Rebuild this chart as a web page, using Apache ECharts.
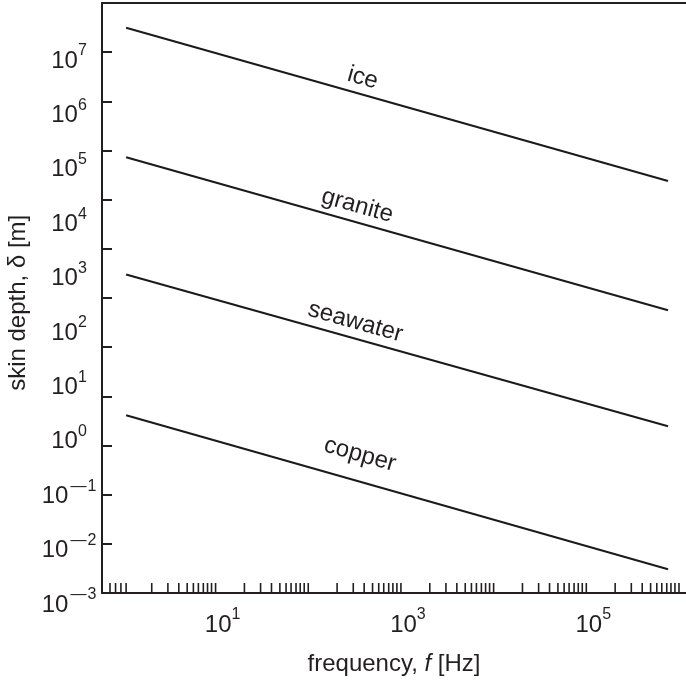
<!DOCTYPE html>
<html>
<head>
<meta charset="utf-8">
<script src="https://cdn.jsdelivr.net/npm/echarts@6/dist/echarts.min.js"></script>
<style>
  html, body { margin: 0; padding: 0; background: #ffffff; }
  #chart { width: 686px; height: 683px; }
</style>
</head>
<body>
<div id="chart"></div>
<script>
// Electromagnetic skin depth against frequency for four materials, log–log.
const materials = ['ice', 'granite', 'seawater', 'copper'];
const lineFreqs = [0.91, 6.4e5];            // Hz, first and last point of each line
const iceDepth = [3.6e7, 5.5e4];            // m
const graniteDepth = [1.5e5, 230];
const seawaterDepth = [1050, 1.7];
const copperDepth = [2.7, 0.004];
const depths = [iceDepth, graniteDepth, seawaterDepth, copperDepth];

const xTickLabels = [1e1, 1e3, 1e5];
const yTickLabels = [1e-3, 1e-2, 1e-1, 1e0, 1e1, 1e2, 1e3, 1e4, 1e5, 1e6, 1e7];

// minor tick marks along the frequency axis
const leadingTicks = [0.61, 0.70, 0.80, 0.91];
const tickSteps = [1.72, 2.57, 3.37, 4.15, 4.84, 5.48, 6.2, 6.88, 7.6, 8.4];
const tickDecades = [1, 10, 100, 1e3, 1e4, 1e5];

const INK = '#231f20';
const FONT = '"Liberation Sans", Arial, Helvetica, sans-serif';

const minorTicks = leadingTicks.slice();
tickDecades.forEach(d => tickSteps.forEach(s => minorTicks.push(s * d)));

const powerRich = {
  b: { fontSize: 24, fontFamily: FONT, color: INK, lineHeight: 30, verticalAlign: 'bottom' },
  s: { fontSize: 16, fontFamily: FONT, color: INK, lineHeight: 14, verticalAlign: 'top' },
  m: { fontSize: 16, fontFamily: FONT, color: INK, lineHeight: 14, verticalAlign: 'top', padding: [0, 1, 0, 2] }
};

function powerLabel(list) {
  return function (v) {
    const e = Math.round(Math.log10(v));
    if (Math.abs(Math.log10(v) - e) > 1e-6) return '';
    if (!list.some(t => Math.round(Math.log10(t)) === e)) return '';
    return e < 0 ? '{b|10}{m|\u2014}{s|' + (-e) + '}' : '{b|10}{s|' + e + '}';
  };
}

const chart = echarts.init(document.getElementById('chart'), null, { renderer: 'canvas' });

// label placement along each line: [distance from the line start, height above the line]
const labelOffsets = [[226, 4], [199, 4], [185, 4], [199, 14]];

const lineSeries = materials.map((name, i) => ({
  name: name,
  type: 'line',
  xAxisIndex: 2,
  yAxisIndex: 1,
  symbol: 'none',
  silent: true,
  lineStyle: { color: '#1a1a1a', width: 2 },
  data: lineFreqs.map((f, k) => [f, depths[i][k]]),
  markLine: {
    silent: true,
    symbol: 'none',
    lineStyle: { color: 'transparent', width: 0, type: 'solid' },
    label: {
      show: true,
      position: 'insideStartTop',
      distance: labelOffsets[i],
      formatter: name,
      fontFamily: FONT,
      fontSize: 24,
      color: INK,
      opacity: 1
    },
    data: [[
      { coord: [lineFreqs[0], depths[i][0]] },
      { coord: [lineFreqs[1], depths[i][1]] }
    ]]
  }
}));

const option = {
  animation: false,
  backgroundColor: '#ffffff',
  grid: [
    { left: 102, right: 0, top: 3, bottom: 90, outerBoundsMode: 'none' },
    { left: 102, right: 0, top: 3.6, bottom: 81, outerBoundsMode: 'none' }
  ],
  xAxis: [
    {
      type: 'log', gridIndex: 0, position: 'bottom', min: 0.5, max: 1e6,
      axisLine: { show: true, lineStyle: { color: INK, width: 2 } },
      axisTick: { show: false },
      splitLine: { show: false },
      axisLabel: { formatter: powerLabel(xTickLabels), rich: powerRich, margin: 14, showMinLabel: false, showMaxLabel: false },
      name: '{t|frequency, }{i|f}{t| [Hz]}',
      nameLocation: 'middle',
      nameGap: 59,
      nameTextStyle: {
        rich: {
          t: { fontSize: 24, fontFamily: FONT, color: INK },
          i: { fontSize: 24, fontFamily: FONT, color: INK, fontStyle: 'italic' }
        }
      }
    },
    {
      type: 'log', gridIndex: 0, position: 'top', min: 0.5, max: 1e6,
      axisLine: { show: true, lineStyle: { color: INK, width: 2 } },
      axisTick: { show: false }, axisLabel: { show: false }, splitLine: { show: false }
    },
    { type: 'log', gridIndex: 1, min: 0.5, max: 1e6, show: false }
  ],
  yAxis: [
    {
      type: 'log', gridIndex: 0, min: 1e-3, max: 1e9, interval: 1,
      axisLine: { show: true, lineStyle: { color: INK, width: 2 } },
      axisTick: { show: true, inside: true, length: 10, lineStyle: { color: INK, width: 2 } },
      axisLabel: { show: false },
      splitLine: { show: false }
    },
    {
      type: 'log', gridIndex: 1, min: 1e-3, max: 1e8, interval: 1,
      axisLine: { show: false },
      axisTick: { show: false },
      splitLine: { show: false },
      axisLabel: { formatter: powerLabel(yTickLabels), rich: powerRich, align: 'center', margin: 33 },
      name: 'skin depth, \u03b4 [m]',
      nameLocation: 'middle',
      nameGap: 63,
      nameRotate: 90,
      nameTextStyle: { fontSize: 24, fontFamily: FONT, color: INK }
    }
  ],
  series: lineSeries.concat([{
    type: 'custom',
    xAxisIndex: 0,
    yAxisIndex: 0,
    silent: true,
    data: minorTicks.map(f => [f, 1e-3]),
    renderItem: function (params, api) {
      const p = api.coord([api.value(0), api.value(1)]);
      return {
        type: 'line',
        shape: { x1: p[0], y1: p[1], x2: p[0], y2: p[1] - 10 },
        style: { stroke: INK, lineWidth: 1.6 }
      };
    }
  }])
};

chart.setOption(option);
</script>
</body>
</html>
